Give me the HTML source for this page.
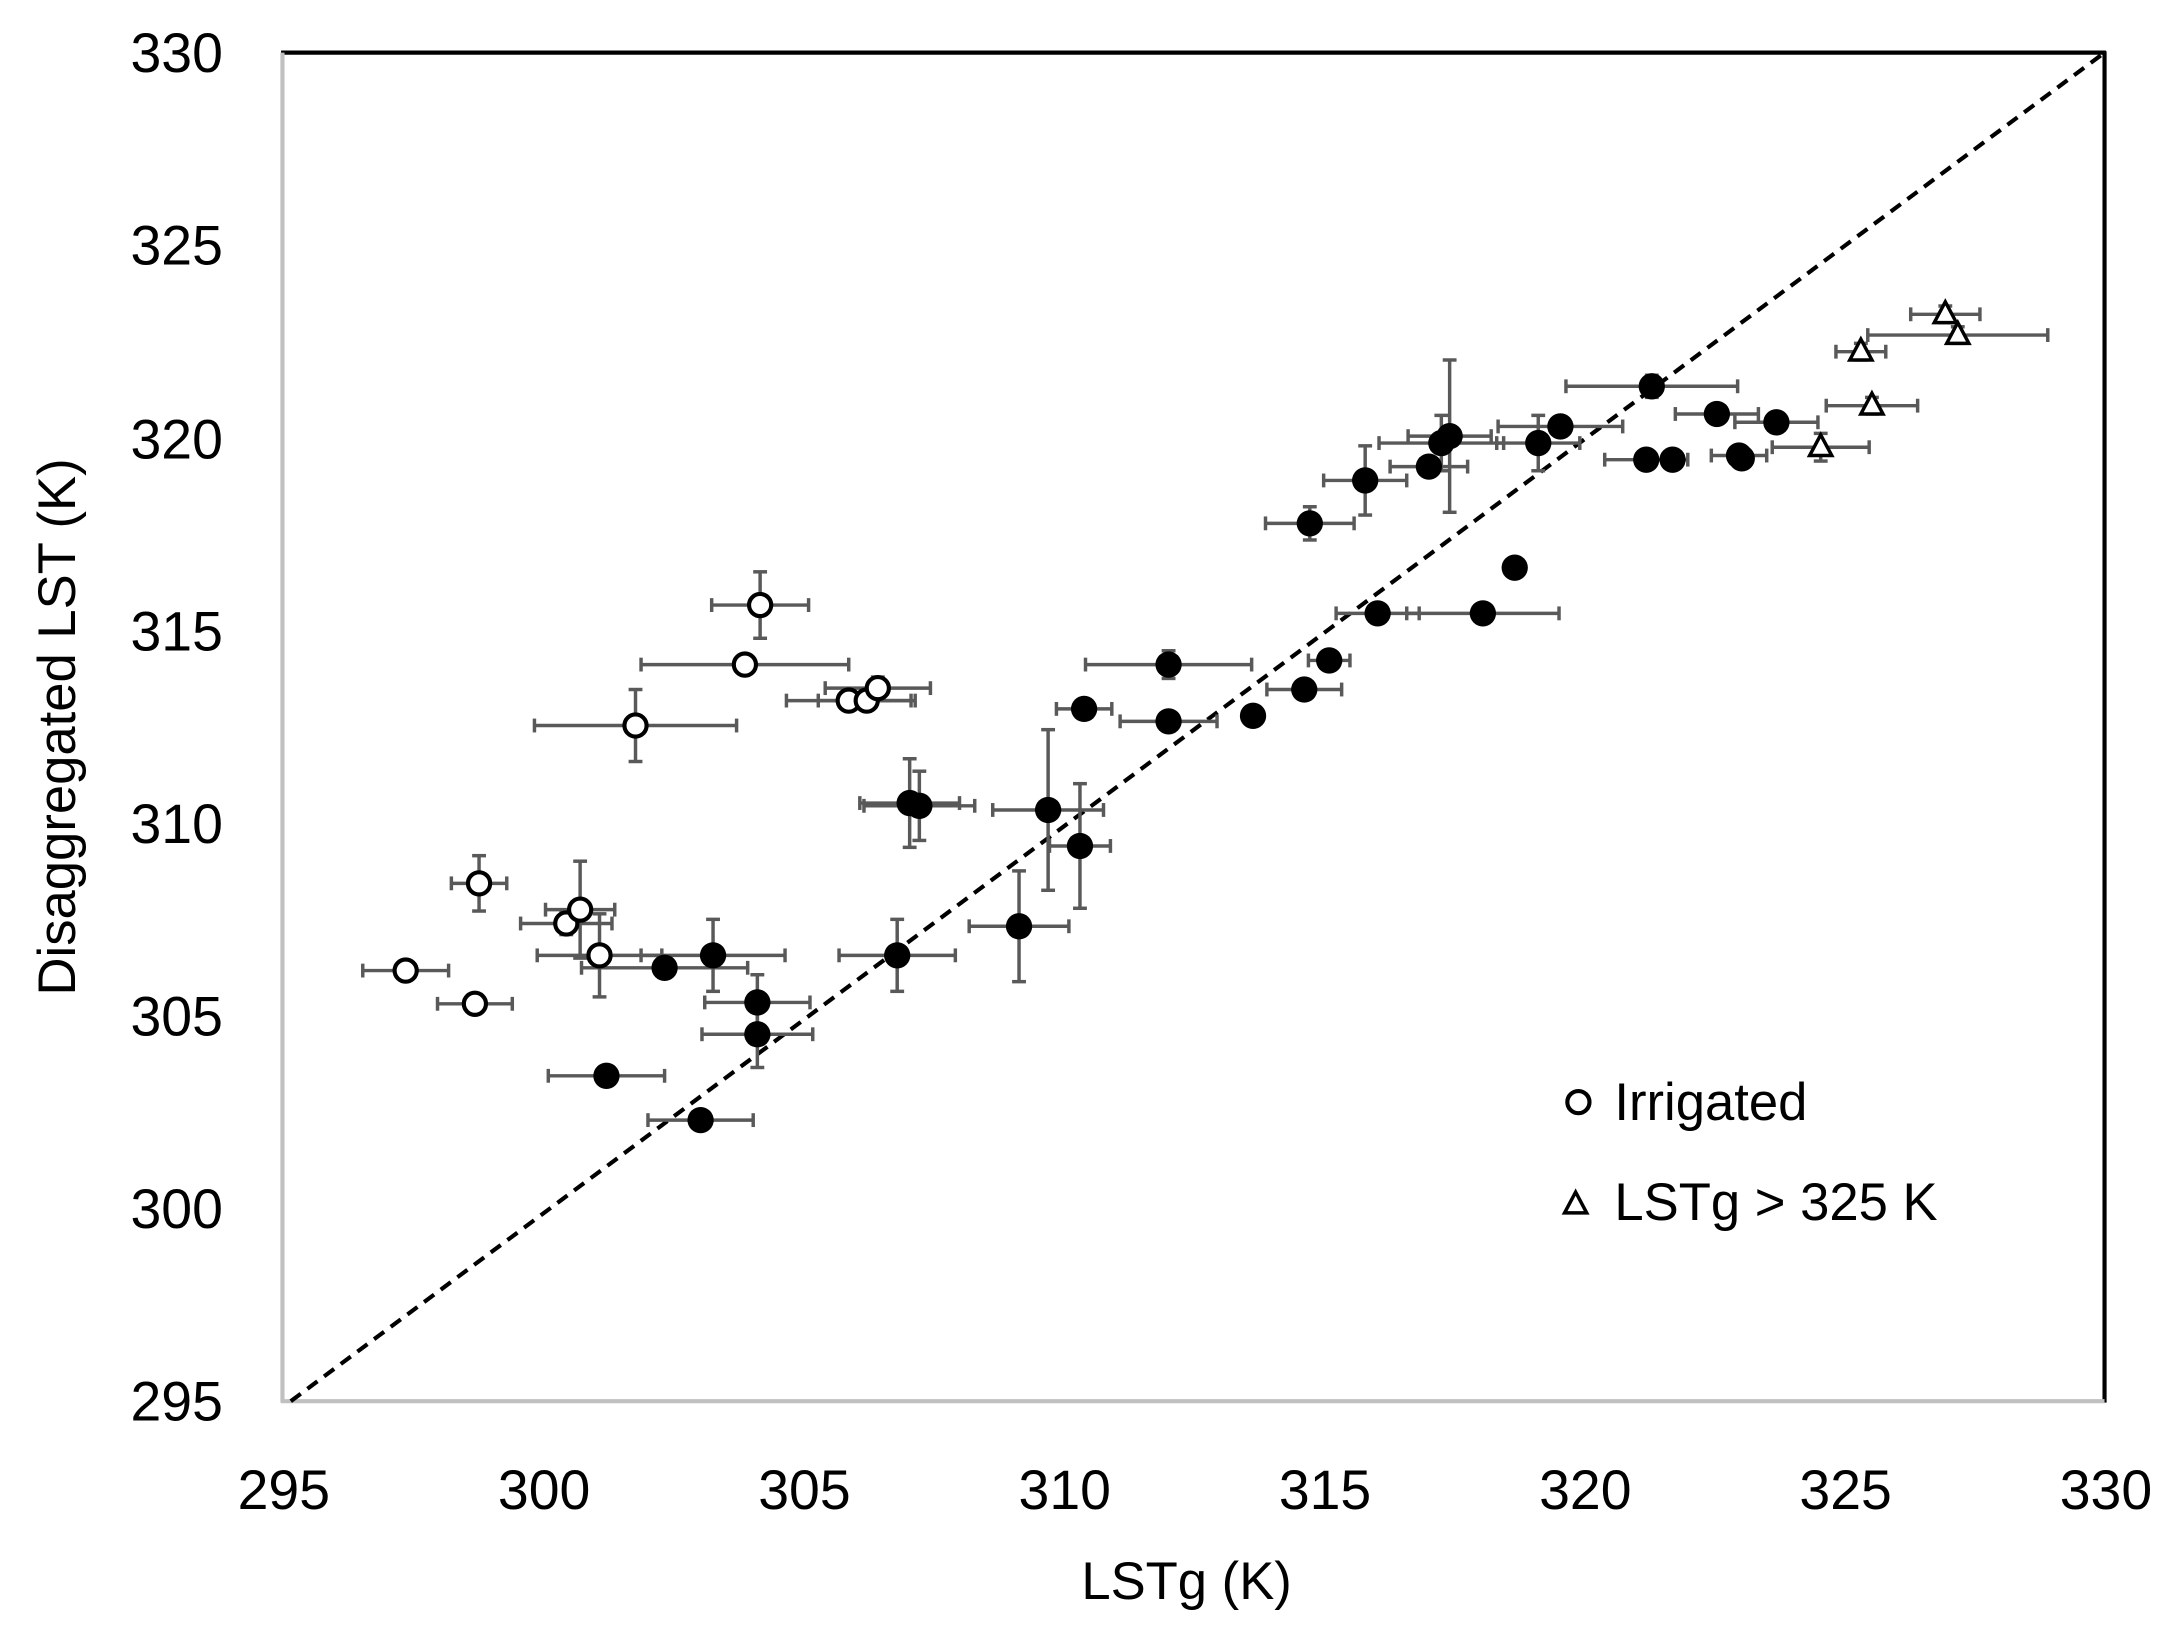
<!DOCTYPE html>
<html><head><meta charset="utf-8"><style>
html,body{margin:0;padding:0;background:#fff;}
svg{display:block;}
text{font-family:"Liberation Sans",sans-serif;fill:#000;}
</style></head><body>
<svg id="s" width="2171" height="1636" viewBox="0 0 1568 1181.6" preserveAspectRatio="none" xmlns="http://www.w3.org/2000/svg">
<rect x="0" y="0" width="1568" height="1182" fill="#fff"/>
<line x1="203" y1="38" x2="1521" y2="38" stroke="#000" stroke-width="3"/>
<line x1="1520" y1="37" x2="1520" y2="1013" stroke="#000" stroke-width="3"/>
<line x1="204" y1="38" x2="204" y2="1013" stroke="#c0c0c0" stroke-width="3"/>
<line x1="203" y1="1012" x2="1520" y2="1012" stroke="#c0c0c0" stroke-width="3"/>
<line x1="210" y1="1012" x2="1520" y2="38" stroke="#000" stroke-width="3" stroke-dasharray="9,6"/>
<g font-size="40" text-anchor="end">
<text x="161" y="52">330</text><text x="161" y="191">325</text><text x="161" y="331">320</text>
<text x="161" y="470">315</text><text x="161" y="609">310</text><text x="161" y="748">305</text>
<text x="161" y="887">300</text><text x="161" y="1026">295</text>
</g>
<g font-size="40" text-anchor="middle">
<text x="205" y="1090">295</text><text x="393" y="1090">300</text><text x="581" y="1090">305</text>
<text x="769" y="1090">310</text><text x="957" y="1090">315</text><text x="1145" y="1090">320</text>
<text x="1333" y="1090">325</text><text x="1521" y="1090">330</text>
</g>
<text x="857" y="1155" font-size="38" text-anchor="middle">LSTg (K)</text>
<text transform="translate(54,525) rotate(-90)" font-size="38" text-anchor="middle">Disaggregated LST (K)</text>
<g id="pts"></g>
<circle cx="1140" cy="796" r="8" fill="#fff" stroke="#000" stroke-width="3"/>
<text x="1166" y="809" font-size="38">Irrigated</text>
<polygon points="1138,861 1146,876 1130,876" fill="#fff" stroke="#000" stroke-width="2.5"/>
<text x="1166" y="881" font-size="38">LSTg &gt; 325 K</text>
</svg>
<script>
var O=[[293,701,31,6],[343,725,27,6],[346,638,20,20],[409,667,33,8],[419,657,25,35],[433,690,45,30],[459,524,73,26],[538,480,75,6],[549,437,35,24],[613,506,45,6],[626,506,35,6],[634,497,38,8]];
var F=[[438,777,42,6],[480,699,60,6],[506,809,38,6],[515,690,52,26],[547,724,38,20],[547,747,40,24],[648,690,42,26],[657,580,36,32],[664,582,40,25],[736,669,36,40],[757,585,40,58],[780,611,22,45],[783,512,20,6],[844,480,60,10],[844,521,35,6],[905,517,0,0],[942,498,27,6],[946,378,32,12],[960,477,15,6],[986,347,30,25],[995,443,30,6],[1032,337,28,6],[1041,320,45,20],[1047,315,30,55],[1071,443,55,6],[1094,410,0,0],[1111,320,30,20],[1127,308,45,6],[1193,279,62,8],[1189,332,30,6],[1208,332,0,0],[1240,299,30,6],[1256,329,20,6],[1258,331,0,0],[1283,305,30,6]];
var T=[[1315,323,35,10],[1344,254,18,6],[1352,293,33,6],[1405,227,25,6],[1414,242,65,6]];
var g=document.getElementById('pts'),h='';
function eb(p){var x=p[0],y=p[1],a=p[2],b=p[3],s='stroke="#595959" stroke-width="2.5"';
if(a>0){h+='<line x1="'+(x-a)+'" y1="'+y+'" x2="'+(x+a)+'" y2="'+y+'" '+s+'/><line x1="'+(x-a)+'" y1="'+(y-5)+'" x2="'+(x-a)+'" y2="'+(y+5)+'" '+s+'/><line x1="'+(x+a)+'" y1="'+(y-5)+'" x2="'+(x+a)+'" y2="'+(y+5)+'" '+s+'/>';}
if(b>0){h+='<line x1="'+x+'" y1="'+(y-b)+'" x2="'+x+'" y2="'+(y+b)+'" '+s+'/><line x1="'+(x-5)+'" y1="'+(y-b)+'" x2="'+(x+5)+'" y2="'+(y-b)+'" '+s+'/><line x1="'+(x-5)+'" y1="'+(y+b)+'" x2="'+(x+5)+'" y2="'+(y+b)+'" '+s+'/>';}}
O.forEach(eb);F.forEach(eb);T.forEach(eb);
O.forEach(function(p){h+='<circle cx="'+p[0]+'" cy="'+p[1]+'" r="8" fill="#fff" stroke="#000" stroke-width="3"/>';});
F.forEach(function(p){h+='<circle cx="'+p[0]+'" cy="'+p[1]+'" r="9.5" fill="#000"/>';});
T.forEach(function(p){var x=p[0],y=p[1];h+='<polygon points="'+x+','+(y-9)+' '+(x+8)+','+(y+6)+' '+(x-8)+','+(y+6)+'" fill="#fff" stroke="#000" stroke-width="2.5"/>';});
g.innerHTML=h;
</script>
</body></html>
